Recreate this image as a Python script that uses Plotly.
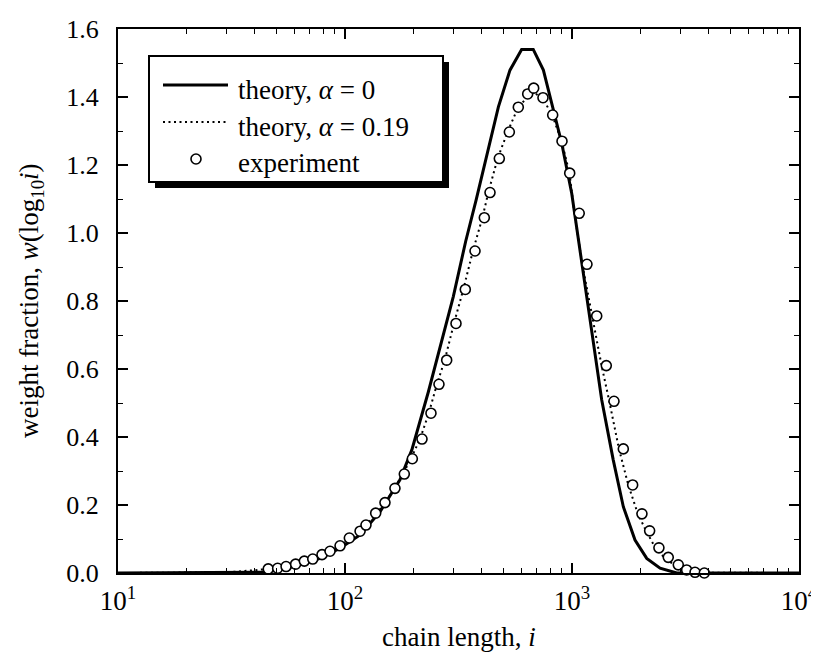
import plotly.graph_objects as go

FONT = "Liberation Serif, Times New Roman, serif"

# experiment (open circles)
exp_i = [45.9, 50.5, 55.0, 60.6, 66.2, 72.1, 79.2, 85.9, 95.1, 104.5, 116.5, 123.7,
         136.5, 150, 166, 182.5, 198, 218.4, 239.2, 259.4, 280.5, 308.3, 338.8, 373.9,
         410.9, 435.3, 478.4, 529.6, 580, 638, 678, 745, 822, 903.6, 977, 1076, 1164,
         1285, 1416, 1531, 1683, 1850, 2033, 2198, 2415, 2655, 2939, 3199, 3483, 3827]
exp_w = [0.012, 0.014, 0.019, 0.026, 0.035, 0.041, 0.054, 0.064, 0.080, 0.103, 0.123, 0.141,
         0.176, 0.207, 0.249, 0.291, 0.336, 0.394, 0.470, 0.555, 0.626, 0.734, 0.834, 0.947,
         1.045, 1.119, 1.219, 1.297, 1.370, 1.409, 1.426, 1.398, 1.347, 1.270, 1.176, 1.058, 0.908,
         0.756, 0.610, 0.505, 0.365, 0.259, 0.174, 0.124, 0.074, 0.046, 0.024, 0.009, 0.002, 0.0]

# theory, alpha = 0 (solid)
th0_i = [10, 18.8, 31.1, 43.0, 51.8, 63.4, 77.6, 95.1, 116.5, 142.6, 174.6, 197, 233, 245,
         300, 340, 378, 474, 533, 600, 675, 748, 828, 901, 997, 1084, 1199, 1352, 1520,
         1683, 1895, 2134, 2443, 2893, 10000]
th0_w = [0, 0, 0.001, 0.002, 0.009, 0.024, 0.043, 0.073, 0.112, 0.180, 0.274, 0.362, 0.533, 0.587,
         0.813, 0.975, 1.097, 1.371, 1.479, 1.540, 1.540, 1.479, 1.362, 1.264, 1.117, 0.950, 0.754,
         0.509, 0.332, 0.195, 0.097, 0.043, 0.014, 0.0, 0.0]

# theory, alpha = 0.19 (dotted)
th19_i = [10, 20, 30, 40, 46, 55, 66, 79, 95, 116, 136, 150, 165, 180, 195, 214, 234, 254,
          275, 302, 332, 366, 403, 428, 470, 520, 575, 635, 690, 745, 820, 900, 975, 1025,
          1110, 1225, 1350, 1460, 1610, 1770, 1950, 2120, 2330, 2580, 2880, 3200, 3700, 10000]
th19_w = [0, 0, 0.002, 0.008, 0.012, 0.018, 0.033, 0.052, 0.080, 0.120, 0.172, 0.205, 0.249,
          0.291, 0.336, 0.394, 0.470, 0.555, 0.626, 0.734, 0.834, 0.947, 1.045, 1.119, 1.219,
          1.297, 1.365, 1.400, 1.410, 1.395, 1.345, 1.270, 1.176, 1.058, 0.908, 0.756, 0.610,
          0.505, 0.365, 0.259, 0.174, 0.124, 0.074, 0.042, 0.020, 0.007, 0.001, 0]

x_ticks = [10, 100, 1000, 10000]
x_ticktext = ["10<sup>1</sup>", "10<sup>2</sup>", "10<sup>3</sup>", "10<sup>4</sup>"]
y_ticks = [0.0, 0.2, 0.4, 0.6, 0.8, 1.0, 1.2, 1.4, 1.6]

legend_labels = ["theory, <i>α</i> = 0", "theory, <i>α</i> = 0.19", "experiment"]

fig = go.Figure()
fig.add_trace(go.Scatter(x=th19_i, y=th19_w, mode="lines", cliponaxis=False,
                         line=dict(color="black", width=2, dash="2px,3.5px")))
fig.add_trace(go.Scatter(x=th0_i, y=th0_w, mode="lines", cliponaxis=False,
                         line=dict(color="black", width=3)))
fig.add_trace(go.Scatter(x=exp_i, y=exp_w, mode="markers", cliponaxis=False,
                         marker=dict(symbol="circle", size=10, color="white",
                                     line=dict(color="black", width=1.6))))

# hand-made legend box with drop shadow (paper coords, from screen pixels)
W, H = 681.0, 544.0
def px(x):
    return (x - 118) / W
def py(y):
    return (573 - y) / H

bx0, bx1, by0, by1 = 149, 443, 56, 182
shapes = [
    dict(type="rect", xref="paper", yref="paper", x0=px(bx0 + 6), x1=px(bx1 + 6),
         y0=py(by1 + 6), y1=py(by0 + 6), fillcolor="black", line=dict(width=0)),
    dict(type="rect", xref="paper", yref="paper", x0=px(bx0), x1=px(bx1),
         y0=py(by1), y1=py(by0), fillcolor="white", line=dict(color="black", width=2)),
    dict(type="line", xref="paper", yref="paper", x0=px(163), x1=px(228),
         y0=py(85), y1=py(85), line=dict(color="black", width=3)),
    dict(type="line", xref="paper", yref="paper", x0=px(163), x1=px(228),
         y0=py(122), y1=py(122), line=dict(color="black", width=2, dash="2px,3.5px")),
    dict(type="circle", xref="paper", yref="paper", xsizemode="pixel", ysizemode="pixel",
         xanchor=px(196), yanchor=py(159), x0=-5, x1=5, y0=-5, y1=5,
         fillcolor="white", line=dict(color="black", width=1.6)),
]
annotations = []
for lab, yy in zip(legend_labels, [90, 127, 163]):
    annotations.append(dict(text=lab, xref="paper", yref="paper", x=px(236), y=py(yy),
                            xanchor="left", yanchor="middle", showarrow=False,
                            font=dict(family=FONT, size=27, color="black")))
annotations.append(dict(text="chain length, <i>i</i>", xref="paper", yref="paper",
                        x=0.5, y=py(637), xanchor="center", yanchor="middle", showarrow=False,
                        font=dict(family=FONT, size=27, color="black")))
annotations.append(dict(text="weight fraction, <i>w</i>(log<sub>10</sub><i>i</i>)",
                        xref="paper", yref="paper", x=px(31), y=0.5, textangle=-90,
                        xanchor="center", yanchor="middle", showarrow=False,
                        font=dict(family=FONT, size=27, color="black")))

axis_common = dict(showline=True, linecolor="black", linewidth=2, mirror="allticks",
                   ticks="inside", tickcolor="black", tickwidth=1.5, ticklen=10,
                   showgrid=False, zeroline=False, automargin=False)

fig.update_xaxes(type="log", range=[1, 4], tickvals=x_ticks, ticktext=x_ticktext,
                 tickfont=dict(family=FONT, size=27, color="black"), ticklabelstandoff=3,
                 minor=dict(ticks="inside", ticklen=5, tickwidth=1.2, tickcolor="black",
                            dtick="D1", showgrid=False),
                 **axis_common)
fig.update_yaxes(range=[0, 1.6], tickvals=y_ticks, tickformat=".1f",
                 tickfont=dict(family=FONT, size=26, color="black"), ticklabelstandoff=12,
                 minor=dict(ticks="inside", ticklen=5, tickwidth=1.2, tickcolor="black",
                            dtick=0.1, showgrid=False),
                 **axis_common)

# page body adds an 8px offset, so the figure is 8px smaller and margins shifted
fig.update_layout(width=811, height=645, margin=dict(l=110, r=20, t=21, b=80),
                  paper_bgcolor="white", plot_bgcolor="white", showlegend=False,
                  shapes=shapes, annotations=annotations,
                  font=dict(family=FONT, color="black"))

fig.write_html("out.html")
